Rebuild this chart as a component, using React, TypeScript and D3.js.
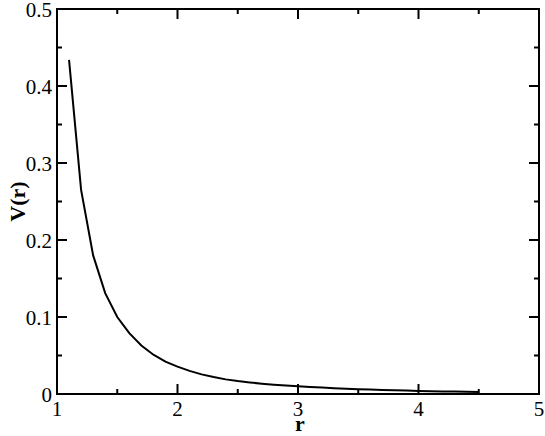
import React from "react";
import * as d3 from "d3";

const rValues = [1.1, 1.2, 1.3, 1.4, 1.5, 1.6, 1.7, 1.8, 1.9, 2.0, 2.1, 2.2, 2.3, 2.4, 2.5, 2.6, 2.7, 2.8, 2.9, 3.0, 3.1, 3.2, 3.3, 3.4, 3.5, 3.6, 3.7, 3.8, 3.9, 4.0, 4.1, 4.2, 4.3, 4.4, 4.5];
const vValues = [0.434, 0.265, 0.18, 0.131, 0.1, 0.079, 0.063, 0.051, 0.042, 0.0355, 0.03, 0.0255, 0.022, 0.019, 0.0168, 0.015, 0.0134, 0.0121, 0.011, 0.01, 0.0091, 0.0083, 0.0076, 0.0069, 0.0063, 0.0058, 0.0053, 0.0048, 0.0044, 0.004, 0.0037, 0.0034, 0.0031, 0.0028, 0.0026];

const xMajor = [1, 2, 3, 4, 5];
const xMinor = [1.5, 2.5, 3.5, 4.5];
const yMajor = [0, 0.1, 0.2, 0.3, 0.4, 0.5];
const yMinor = [0.05, 0.15, 0.25, 0.35, 0.45];
const xLabels = ["1", "2", "3", "4", "5"];
const yLabels = ["0", "0.1", "0.2", "0.3", "0.4", "0.5"];

export default function App() {
  const W = 545, H = 436;
  const L = 57, R = 539, T = 9, B = 394;
  const x = d3.scaleLinear().domain([1, 5]).range([L, R]);
  const y = d3.scaleLinear().domain([0, 0.5]).range([B, T]);
  const line = d3.line<number>().x((_, i) => x(rValues[i])).y((d) => y(d));
  const font = "Liberation Serif";
  const major = 10, minor = 5;
  return (
    <svg width={W} height={H} style={{ position: "absolute", left: 0, top: 0, background: "#fff" }}>
      <rect x={0} y={0} width={W} height={H} fill="#fff" />
      <g stroke="#000" strokeWidth={2}>
        {xMajor.map((t) => (
          <g key={"xM" + t}>
            <line x1={x(t)} x2={x(t)} y1={B} y2={B - major} />
            <line x1={x(t)} x2={x(t)} y1={T} y2={T + major} />
          </g>
        ))}
        {xMinor.map((t) => (
          <g key={"xm" + t}>
            <line x1={x(t)} x2={x(t)} y1={B} y2={B - minor} />
            <line x1={x(t)} x2={x(t)} y1={T} y2={T + minor} />
          </g>
        ))}
        {yMajor.map((t) => (
          <g key={"yM" + t}>
            <line x1={L} x2={L + major} y1={y(t)} y2={y(t)} />
            <line x1={R} x2={R - major} y1={y(t)} y2={y(t)} />
          </g>
        ))}
        {yMinor.map((t) => (
          <g key={"ym" + t}>
            <line x1={L} x2={L + minor} y1={y(t)} y2={y(t)} />
            <line x1={R} x2={R - minor} y1={y(t)} y2={y(t)} />
          </g>
        ))}
      </g>
      <path d={line(vValues) || ""} fill="none" stroke="#000" strokeWidth={2} />
      <rect x={L} y={T} width={R - L} height={B - T} fill="none" stroke="#000" strokeWidth={2} />
      <g style={{ fontFamily: font, fontSize: "21px" }} fill="#000">
        {xMajor.map((t, i) => (
          <text key={"xl" + t} x={x(t)} y={416} textAnchor="middle">{xLabels[i]}</text>
        ))}
        {yMajor.map((t, i) => (
          <text key={"yl" + t} x={52} y={y(t) + 8} textAnchor="end">{yLabels[i]}</text>
        ))}
      </g>
      <text x={300} y={431} textAnchor="middle" style={{ fontFamily: font, fontSize: "22px", fontWeight: "bold" }}>r</text>
      <text transform={`translate(25,${(T + B) / 2}) rotate(-90)`} textAnchor="middle" style={{ fontFamily: font, fontSize: "22px", fontWeight: "bold" }}>V(r)</text>
    </svg>
  );
}
